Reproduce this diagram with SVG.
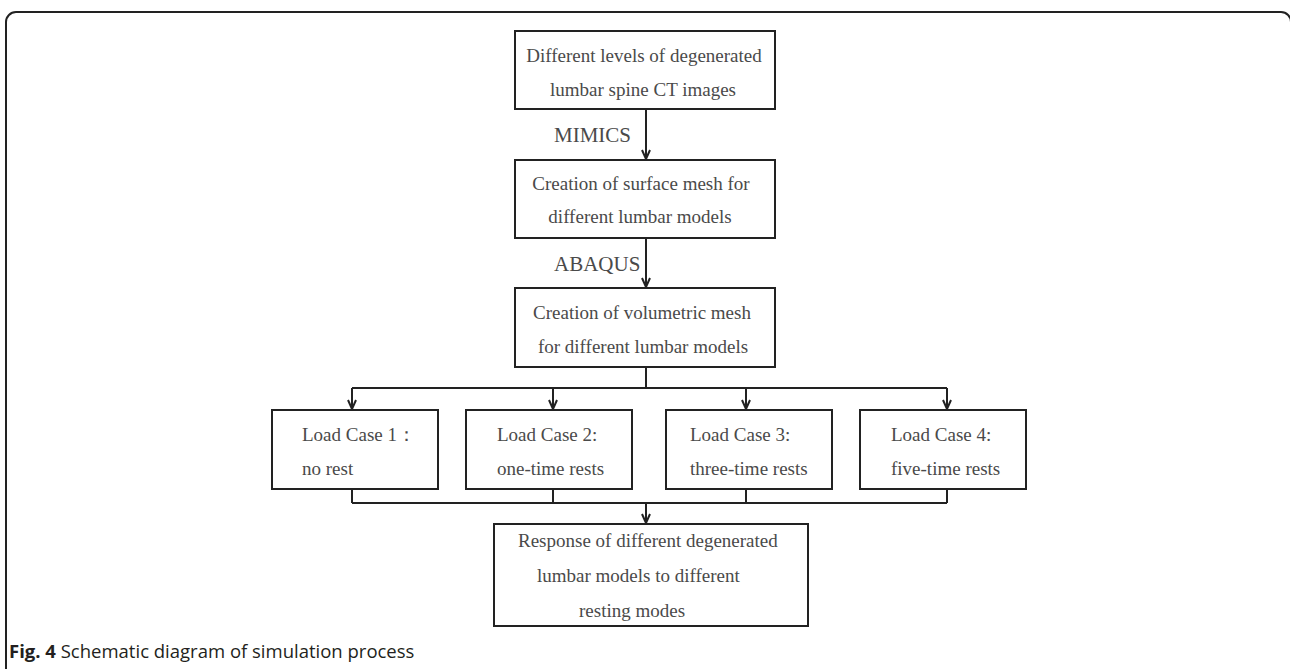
<svg xmlns="http://www.w3.org/2000/svg" width="1290" height="669" viewBox="0 0 1290 669">
<defs>
<style>
.box{fill:#fff;stroke:#222;stroke-width:2}
.t{font-family:"Liberation Serif","Times New Roman",serif;font-size:19px;fill:#4a4a4a}
.tc{text-anchor:middle}
.lbl{font-family:"Liberation Serif","Times New Roman",serif;font-size:21px;fill:#4a4a4a}
.con{fill:none;stroke:#222;stroke-width:2}
.cap{font-family:"Open Sans","Liberation Sans",sans-serif;font-size:18.5px;fill:#231f20}
</style>
<marker id="ah" markerWidth="12" markerHeight="12" refX="10" refY="5" orient="auto" markerUnits="userSpaceOnUse">
<path d="M1,1 L10,5 L1,9" fill="none" stroke="#222" stroke-width="2"/>
</marker>
</defs>
<rect width="1290" height="669" fill="#fff"/>
<path d="M6,669 L6,22 A10,10 0 0 1 16,12 L1281,12 A10,10 0 0 1 1291,22 L1291,669" fill="none" stroke="#222" stroke-width="2"/>
<g id="connectors">
<path class="con" d="M646,109 L646,159" marker-end="url(#ah)"/>
<path class="con" d="M646,238 L646,287" marker-end="url(#ah)"/>
<path class="con" d="M646,367 L646,388 M352,388 L947,388"/>
<path class="con" d="M352,388 L352,409" marker-end="url(#ah)"/>
<path class="con" d="M553,388 L553,409" marker-end="url(#ah)"/>
<path class="con" d="M746,388 L746,409" marker-end="url(#ah)"/>
<path class="con" d="M947,388 L947,409" marker-end="url(#ah)"/>
<path class="con" d="M352,489 L352,503 M553,489 L553,503 M746,489 L746,503 M947,489 L947,503 M352,503 L947,503"/>
<path class="con" d="M646,503 L646,523" marker-end="url(#ah)"/>
<text class="lbl" x="554" y="142">MIMICS</text>
<text class="lbl" x="554" y="271">ABAQUS</text>
</g>
<g id="n1">
<rect class="box" x="515" y="31" width="260" height="78"/>
<text class="t tc" x="644" y="62">Different levels of degenerated</text>
<text class="t tc" x="643" y="96">lumbar spine CT images</text>
</g>
<g id="n2">
<rect class="box" x="515" y="160" width="260" height="78"/>
<text class="t tc" x="641" y="190">Creation of surface mesh for</text>
<text class="t tc" x="640" y="223">different lumbar models</text>
</g>
<g id="n3">
<rect class="box" x="515" y="288" width="260" height="79"/>
<text class="t tc" x="642" y="319">Creation of volumetric mesh</text>
<text class="t tc" x="643" y="353">for different lumbar models</text>
</g>
<g id="lc1">
<rect class="box" x="272" y="410" width="166" height="79"/>
<text class="t" x="302" y="441">Load Case 1：</text>
<text class="t" x="302" y="475">no rest</text>
</g>
<g id="lc2">
<rect class="box" x="466" y="410" width="166" height="79"/>
<text class="t" x="497" y="441">Load Case 2:</text>
<text class="t" x="497" y="475">one-time rests</text>
</g>
<g id="lc3">
<rect class="box" x="666" y="410" width="166" height="79"/>
<text class="t" x="690" y="441">Load Case 3:</text>
<text class="t" x="690" y="475">three-time rests</text>
</g>
<g id="lc4">
<rect class="box" x="860" y="410" width="166" height="79"/>
<text class="t" x="891" y="441">Load Case 4:</text>
<text class="t" x="891" y="475">five-time rests</text>
</g>
<g id="n4">
<rect class="box" x="494" y="524" width="314" height="102"/>
<text class="t" x="518" y="547">Response of different degenerated</text>
<text class="t" x="537" y="582">lumbar models to different</text>
<text class="t" x="579" y="617">resting modes</text>
</g>
<text class="cap" x="9" y="658"><tspan font-weight="bold">Fig. 4</tspan> Schematic diagram of simulation process</text>
</svg>
